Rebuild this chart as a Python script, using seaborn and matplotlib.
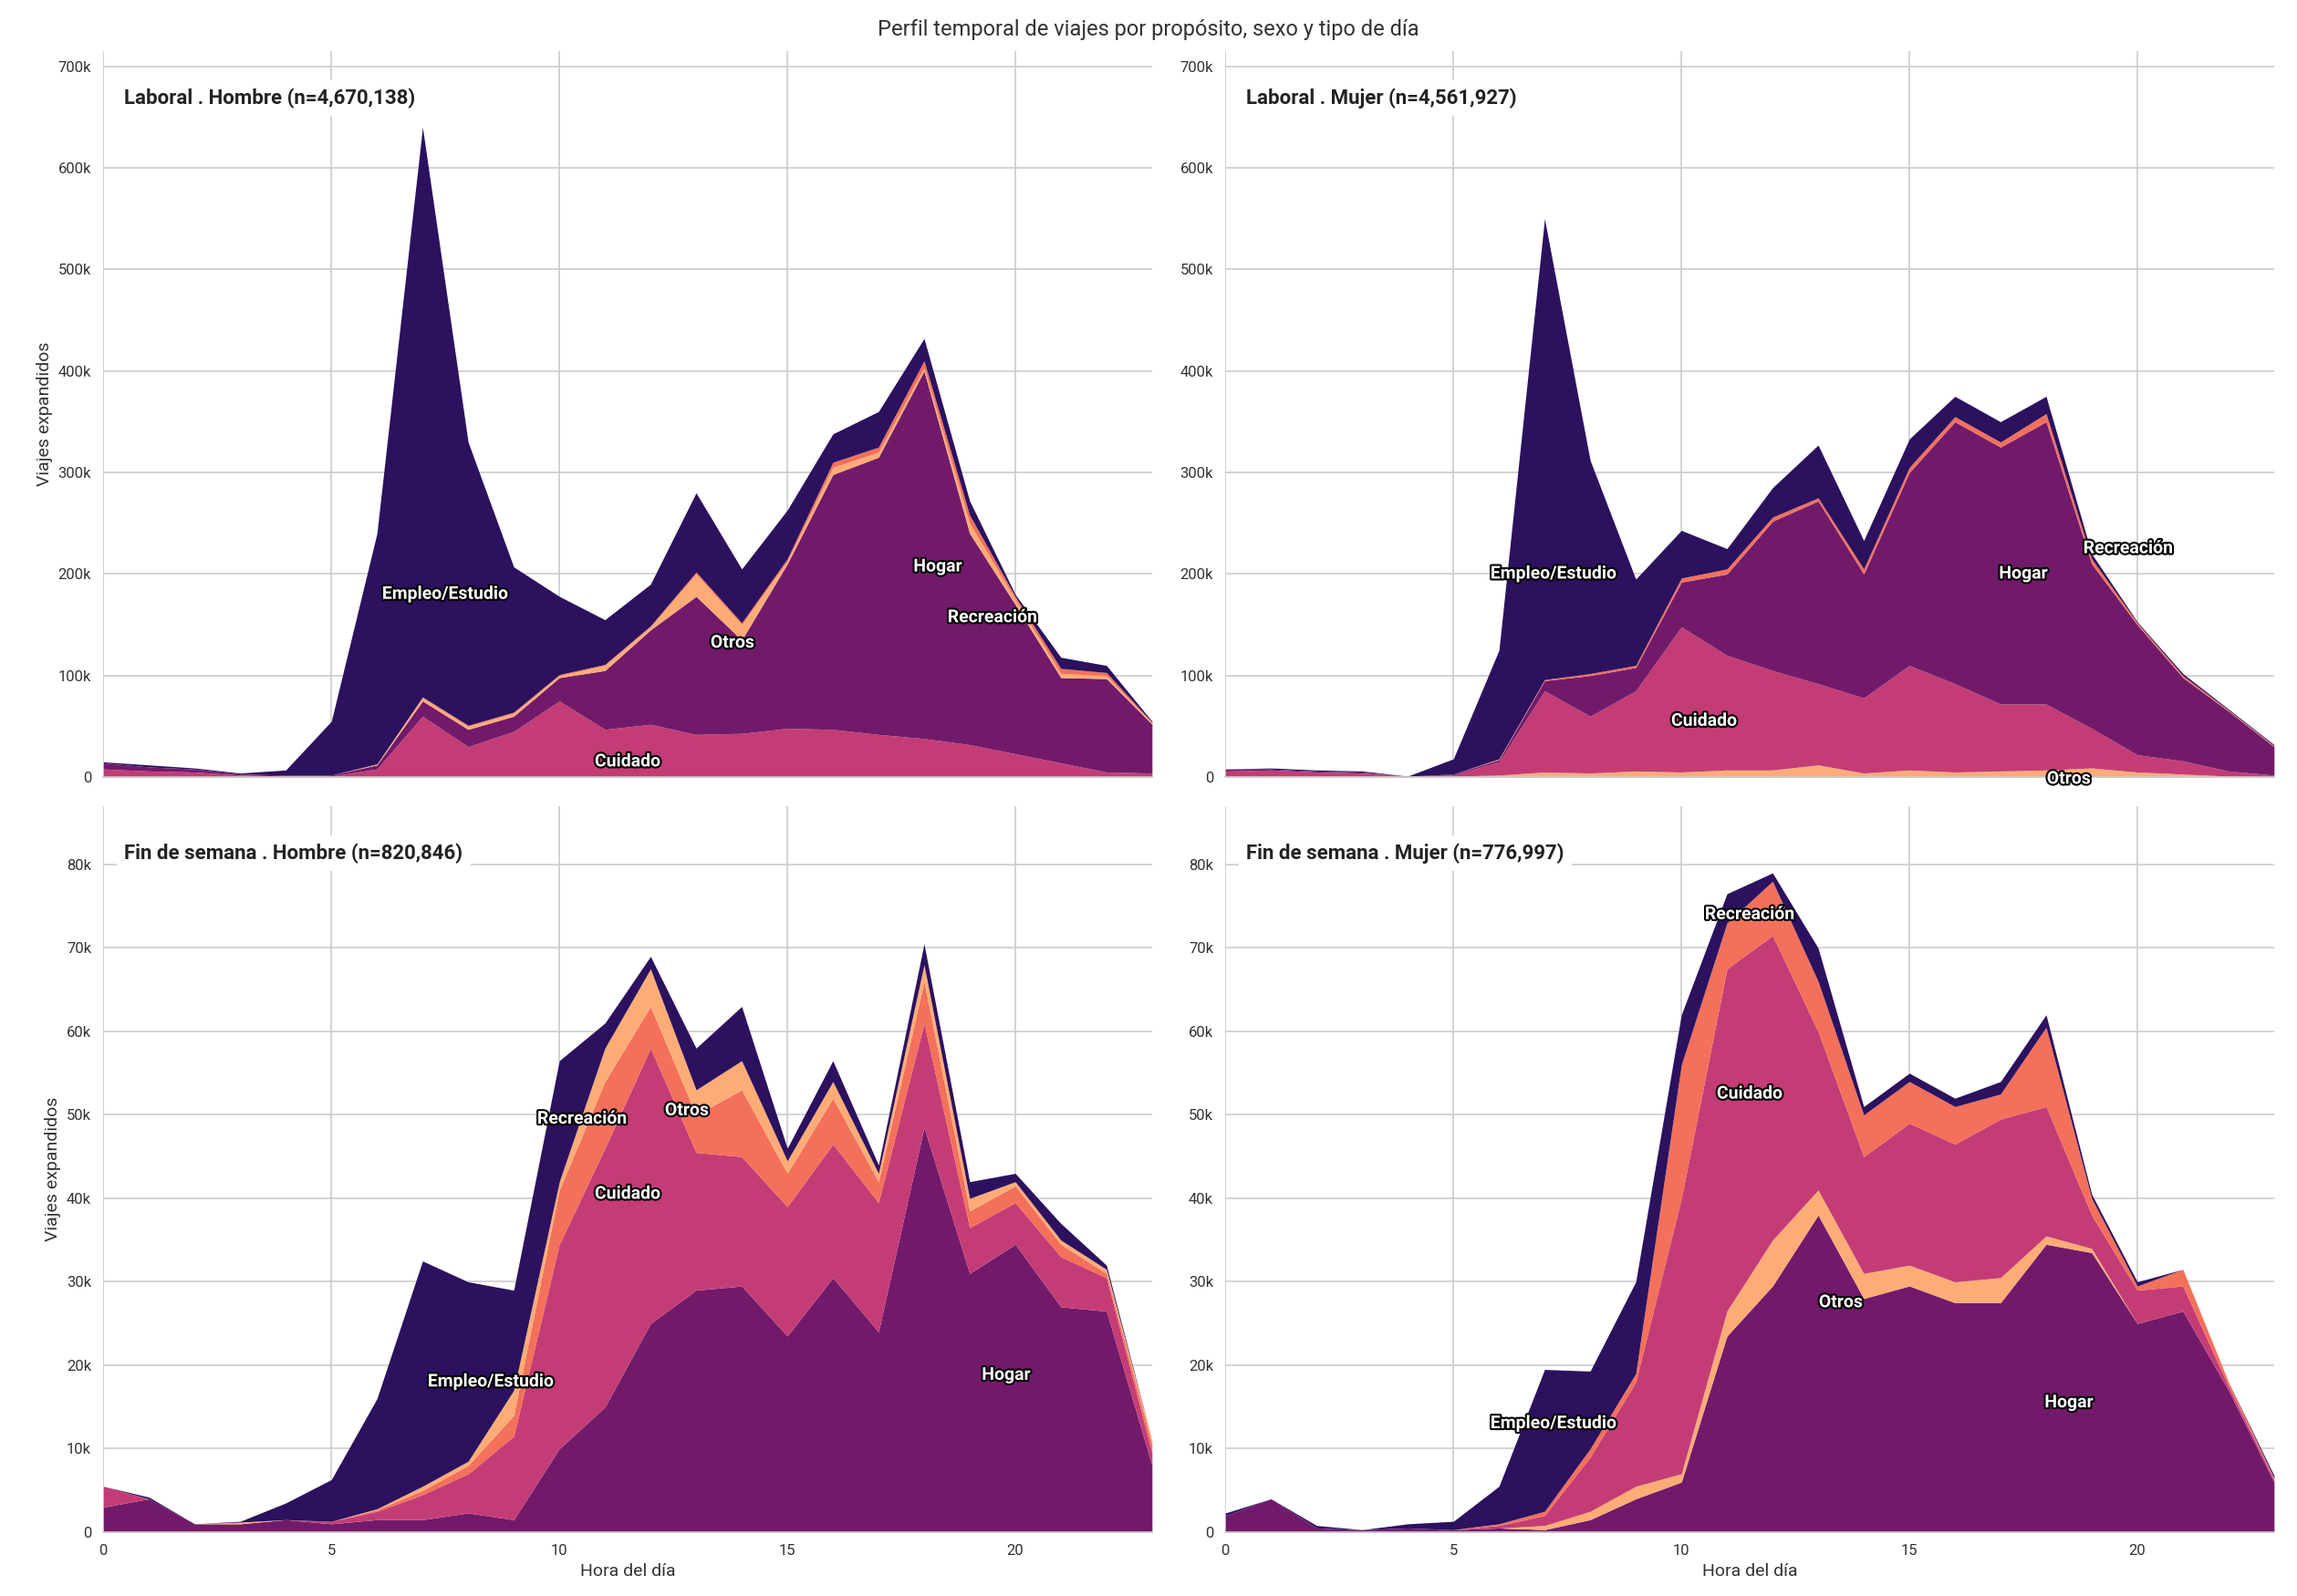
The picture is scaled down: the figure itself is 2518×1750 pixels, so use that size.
import numpy as np
import matplotlib
matplotlib.use("Agg")
import matplotlib.pyplot as plt
import matplotlib.patheffects as pe
import seaborn as sns

sns.set_theme(style="whitegrid")
plt.rcParams['font.family'] = ['Roboto', 'DejaVu Sans']

hours = list(range(24))
colors = {"Empleo/Estudio": "#2c115f", "Hogar": "#721a6a", "Cuidado": "#c43c75",
          "Recreación": "#f3705a", "Otros": "#feac76"}

# Laboral . Hombre (k)
lh = {
 "Cuidado": [8,6,5,2,1,1,8,60,30,45,75,47,52,42,43,48,47,42,38,32,23,14,5,4],
 "Hogar": [6,4,3,1,1,1,4,15,17,15,23,58,93,136,92,162,251,273,362,208,147,84,92,48],
 "Otros": [0,0,0,0,0,0,1,3,3,3,2,5,3,22,15,3,7,5,3,10,5,4,3,1],
 "Recreación": [0,0,0,0,0,0,0,1,1,1,1,1,1,2,2,2,5,5,7,8,3,5,3,1],
 "Empleo/Estudio": [1,2,1,1,5,53,227,561,279,143,77,44,41,78,53,48,28,35,22,14,2,11,7,1],
}
lm = {
 "Otros": [1,1,1,1,0,1,2,5,4,6,5,7,7,12,4,7,5,6,7,9,5,3,1,0],
 "Cuidado": [5,6,4,3,1,1,13,80,56,79,143,113,98,80,74,103,87,66,65,39,17,13,5,2],
 "Hogar": [2,1,1,1,0,1,2,10,40,23,44,80,147,180,122,190,258,253,278,162,128,82,59,28],
 "Recreación": [0,0,0,0,0,0,1,1,2,2,4,5,4,3,5,5,5,5,8,5,2,2,1,1],
 "Empleo/Estudio": [0,1,1,1,0,15,107,454,210,85,47,20,29,52,28,28,20,20,17,5,1,2,1,1],
}
fh = {
 "Hogar": [3,4,1,1,1.5,1,1.5,1.5,2.3,1.5,10,15,25,29,29.5,23.5,30.5,24,48.5,31,34.5,27,26.5,8],
 "Cuidado": [2.5,0,0,0,0,0.3,1,3,4.7,10,24.5,31,33,16.5,15.5,15.5,16,15.5,12.5,5.5,5,6,4,1.5],
 "Recreación": [0,0,0,0,0,0,0.2,0.5,1,2.5,6.5,8,5,4.5,8,4,5.5,2.5,5,2,2,1.5,0.5,1],
 "Otros": [0,0,0,0.2,0,0,0.1,0.5,0.5,3,1,4,4.5,3,3.5,1.5,2,1,2,1.5,0.5,0.5,0.5,0.5],
 "Empleo/Estudio": [0,0.2,0,0.1,2,5,13.2,27,21.5,12,14.5,3,1.5,5,6.5,1.5,2.5,1,2.5,2,1,2,0.5,0],
}
fm = {
 "Hogar": [2,4,0.5,0.3,0.5,0.3,0.5,0.3,1.5,4,6,23.5,29.5,38,28,29.5,27.5,27.5,34.5,33.5,25,26.5,17,6],
 "Otros": [0,0,0,0,0,0,0,0.5,1,1.5,1,3,5.5,3,3,2.5,2.5,3,1,0.5,0,0,0,0],
 "Cuidado": [0,0,0,0,0,0,0.3,1.2,6.5,12.5,33,41,36.5,19,14,17,16.5,19,15.5,4,4,3,0.5,0.3],
 "Recreación": [0,0,0,0,0,0,0.2,0.5,1,1,16,5.5,6.5,6,5,5,4.5,3,9.5,2,0.5,2,0.5,0.2],
 "Empleo/Estudio": [0.3,0,0.3,0,0.5,1,4.5,17,9.3,11,6,3.5,1,4,1,1,1,1.5,1.5,0.5,0.5,0,0,0.3],
}
titles = ["Laboral . Hombre (n=4,670,138)", "Laboral . Mujer (n=4,561,927)",
          "Fin de semana . Hombre (n=820,846)", "Fin de semana . Mujer (n=776,997)"]
labels = [
 [("Empleo/Estudio", 7.5, 180), ("Cuidado", 11.5, 15), ("Otros", 13.8, 132), ("Hogar", 18.3, 207), ("Recreación", 19.5, 157)],
 [("Empleo/Estudio", 7.2, 200), ("Cuidado", 10.5, 55), ("Hogar", 17.5, 200), ("Recreación", 19.8, 225), ("Otros", 18.5, -2)],
 [("Empleo/Estudio", 8.5, 18), ("Recreación", 10.5, 49.5), ("Cuidado", 11.5, 40.5), ("Otros", 12.8, 50.5), ("Hogar", 19.8, 18.8)],
 [("Empleo/Estudio", 7.2, 13), ("Recreación", 11.5, 74), ("Cuidado", 11.5, 52.5), ("Otros", 13.5, 27.5), ("Hogar", 18.5, 15.5)],
]
datasets = [lh, lm, fh, fm]

fig, axes = plt.subplots(2, 2, figsize=(25.18, 17.5), dpi=100)
for i, ax in enumerate(axes.flat):
    d = datasets[i]
    keys = list(d.keys())
    ax.stackplot(hours, *[np.array(d[k]) * 1000 for k in keys],
                 colors=[colors[k] for k in keys], linewidth=0)
    ax.set_xlim(0, 23)
    if i < 2:
        ax.set_ylim(0, 715000)
        ax.set_yticks(np.arange(0, 700001, 100000))
    else:
        ax.set_ylim(0, 87000)
        ax.set_yticks(np.arange(0, 80001, 10000))
    ax.yaxis.set_major_formatter(matplotlib.ticker.FuncFormatter(lambda v, p: "0" if v == 0 else f"{int(v/1000)}k"))
    ax.set_xticks([0, 5, 10, 15, 20])
    ax.grid(color="#cccccc", linewidth=1.2)
    for s in ["top", "right", "left"]:
        ax.spines[s].set_visible(False)
    ax.spines["bottom"].set_color("#cccccc")
    ax.tick_params(labelsize=12, colors="#333333")
    for name, x, y in labels[i]:
        ax.text(x, y * 1000, name, ha="center", va="center", color="white", fontsize=14,
                fontweight="bold", path_effects=[pe.withStroke(linewidth=3, foreground="black")], zorder=5)
    ax.text(0.02, 0.935, titles[i], transform=ax.transAxes, fontsize=16, fontweight="bold",
            color="#222222", ha="left", va="center",
            bbox=dict(facecolor="white", edgecolor="none", pad=6), zorder=6)
    ax.set_ylabel("Viajes expandidos" if i % 2 == 0 else "", fontsize=14, color="#333333")
    ax.set_xlabel("Hora del día" if i >= 2 else "", fontsize=14, color="#333333")
    if i < 2:
        ax.set_xticklabels([])

fig.suptitle("Perfil temporal de viajes por propósito, sexo y tipo de día", fontsize=17, color="#333333", y=0.988)
fig.subplots_adjust(left=0.045, right=0.99, top=0.968, bottom=0.04, wspace=0.07, hspace=0.04)
fig.savefig("out.png", dpi=100, facecolor="white")
